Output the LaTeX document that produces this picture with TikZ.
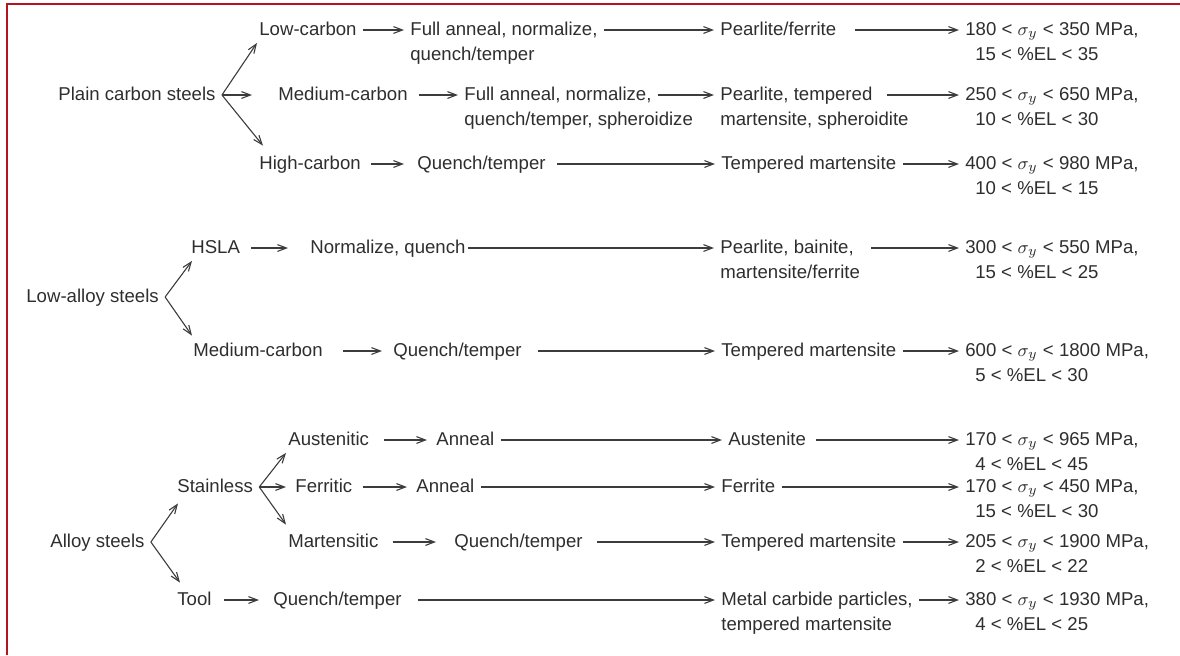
\documentclass[tikz,border=0pt]{standalone}
\usepackage{fontspec}
\setmainfont{Liberation Sans}
\usepackage{tikz}
\usetikzlibrary{arrows.meta,positioning}
\definecolor{txtgray}{HTML}{2E2E2E}
\definecolor{lngray}{HTML}{3C3C3C}
\definecolor{framered}{HTML}{B3141E}

\begin{document}
\begin{tikzpicture}[
  x=0.5pt,y=-0.5pt,
  lbl/.style={anchor=west,text=txtgray,font=\fontsize{9.3}{11}\selectfont,
    text height=7pt,text depth=2pt,inner xsep=3pt,inner ysep=1.75pt},
  arr/.style={-{Straight Barb[length=4.5pt,width=3.4pt]},draw=lngray,line width=0.55pt}
]
\useasboundingbox (0,0) rectangle (1180,655);
% ── Moldura (só topo e esquerda) ─────────────────────────────────────────────
\draw[framered,line width=1.1pt] (7,655) -- (7,4) -- (1180,4);

% ── Plain carbon steels ──────────────────────────────────────────────────────
\node[lbl] (pcs) at (52,95) {Plain carbon steels};
\node[lbl] (lc) at (253,30) {Low-carbon};
\node[lbl] (mc) at (272,95) {Medium-carbon};
\node[lbl] (hc) at (253,164) {High-carbon};
% tratamentos
\node[lbl] (lcT) at (404,30) {Full anneal, normalize,};
\node[lbl,below right=0pt and 0pt of lcT.south west] (lcT2) {quench/temper};
\node[lbl] (mcT) at (458,95) {Full anneal, normalize,};
\node[lbl,below right=0pt and 0pt of mcT.south west] (mcT2) {quench/temper, spheroidize};
\node[lbl] (hcT) at (411,164) {Quench/temper};
% microestruturas
\node[lbl] (lcM) at (714,30) {Pearlite/ferrite};
\node[lbl] (mcM) at (714,95) {Pearlite, tempered};
\node[lbl,below right=0pt and 0pt of mcM.south west] (mcM2) {martensite, spheroidite};
\node[lbl] (hcM) at (715,164) {Tempered martensite};
% propriedades
\node[lbl] (lcP) at (959,30) {180 < $\sigma_y$ < 350 MPa,};
\node[lbl,below right=0pt and 5pt of lcP.south west] (lcP2) {15 < \%EL < 35};
\node[lbl] (mcP) at (959,95) {250 < $\sigma_y$ < 650 MPa,};
\node[lbl,below right=0pt and 5pt of mcP.south west] (mcP2) {10 < \%EL < 30};
\node[lbl] (hcP) at (959,164) {400 < $\sigma_y$ < 980 MPa,};
\node[lbl,below right=0pt and 5pt of hcP.south west] (hcP2) {10 < \%EL < 15};

\draw[arr] (pcs.east) -- ([xshift=2pt]lc.south west);
\draw[arr,shorten >=10pt] (pcs.east) -- (mc.west);
\draw[arr] (pcs.east) -- ([xshift=5pt,yshift=2.75pt]hc.north west);
\draw[arr] (lc) -- (lcT);
\draw[arr] (lcT) -- (lcM);
\draw[arr,shorten <=6pt] (lcM) -- (lcP);
\draw[arr,shorten <=2.5pt] (mc) -- (mcT);
\draw[arr] (mcT) -- (mcM);
\draw[arr,shorten <=4pt] (mcM) -- (mcP);
\draw[arr,shorten <=2pt,shorten >=3.5pt] (hc) -- (hcT);
\draw[arr,shorten <=2.5pt] (hcT) -- (hcM);
\draw[arr] (hcM) -- (hcP);

% ── Low-alloy steels ─────────────────────────────────────────────────────────
\node[lbl] (las) at (20,297) {Low-alloy steels};
\node[lbl] (hsla) at (185,248) {HSLA};
\node[lbl] (lamc) at (187,351) {Medium-carbon};
\node[lbl] (hslaT) at (304,248) {Normalize, quench};
\node[lbl] (lamcT) at (387,351) {Quench/temper};
\node[lbl] (hslaM) at (714,248) {Pearlite, bainite,};
\node[lbl,below right=0pt and 0pt of hslaM.south west] (hslaM2) {martensite/ferrite};
\node[lbl] (lamcM) at (715,351) {Tempered martensite};
\node[lbl] (hslaP) at (959,248) {300 < $\sigma_y$ < 550 MPa,};
\node[lbl,below right=0pt and 5pt of hslaP.south west] (hslaP2) {15 < \%EL < 25};
\node[lbl] (lamcP) at (959,351) {600 < $\sigma_y$ < 1800 MPa,};
\node[lbl,below right=0pt and 5pt of lamcP.south west] (lamcP2) {5 < \%EL < 30};

\draw[arr] (las.east) -- ([xshift=3.5pt]hsla.south west);
\draw[arr] (las.east) -- ([xshift=2.5pt,yshift=1.25pt]lamc.north west);
\draw[arr,shorten <=2.5pt,shorten >=8pt] (hsla) -- (hslaT);
\draw[arr,shorten <=-2pt] (hslaT) -- (hslaM);
\draw[arr,shorten <=5.5pt] (hslaM) -- (hslaP);
\draw[arr,shorten <=7pt,shorten >=2.5pt] (lamc) -- (lamcT);
\draw[arr,shorten <=5pt] (lamcT) -- (lamcM);
\draw[arr] (lamcM) -- (lamcP);

% ── Alloy steels ─────────────────────────────────────────────────────────────
\node[lbl] (als) at (44,542) {Alloy steels};
\node[lbl] (stl) at (171,487) {Stainless};
\node[lbl] (tool) at (171,600) {Tool};
\node[lbl] (aus) at (282,440) {Austenitic};
\node[lbl] (fer) at (289,487) {Ferritic};
\node[lbl] (mar) at (282,542) {Martensitic};
% tratamentos
\node[lbl] (ausT) at (430,440) {Anneal};
\node[lbl] (ferT) at (410,487) {Anneal};
\node[lbl] (marT) at (448,542) {Quench/temper};
\node[lbl] (toolT) at (267,600) {Quench/temper};
% microestruturas
\node[lbl] (ausM) at (722,440) {Austenite};
\node[lbl] (ferM) at (715,487) {Ferrite};
\node[lbl] (marM) at (715,542) {Tempered martensite};
\node[lbl] (toolM) at (715,600) {Metal carbide particles,};
\node[lbl,below right=0pt and 0pt of toolM.south west] (toolM2) {tempered martensite};
% propriedades
\node[lbl] (ausP) at (959,440) {170 < $\sigma_y$ < 965 MPa,};
\node[lbl,below right=0pt and 5pt of ausP.south west] (ausP2) {4 < \%EL < 45};
\node[lbl] (ferP) at (959,487) {170 < $\sigma_y$ < 450 MPa,};
\node[lbl,below right=0pt and 5pt of ferP.south west] (ferP2) {15 < \%EL < 30};
\node[lbl] (marP) at (959,542) {205 < $\sigma_y$ < 1900 MPa,};
\node[lbl,below right=0pt and 5pt of marP.south west] (marP2) {2 < \%EL < 22};
\node[lbl] (toolP) at (959,600) {380 < $\sigma_y$ < 1930 MPa,};
\node[lbl,below right=0pt and 5pt of toolP.south west] (toolP2) {4 < \%EL < 25};

\draw[arr] (als.east) -- ([xshift=3.5pt,yshift=-1.75pt]stl.south west);
\draw[arr] (als.east) -- ([xshift=4.5pt,yshift=2.25pt]tool.north west);
\draw[arr] (stl.east) -- ([xshift=2pt]aus.south west);
\draw[arr,shorten >=1.5pt] (stl.east) -- (fer.west);
\draw[arr] (stl.east) -- ([xshift=2pt,yshift=2.25pt]mar.north west);
\draw[arr,shorten <=4.5pt,shorten >=1.5pt] (aus) -- (ausT);
\draw[arr] (ausT) -- (ausM);
\draw[arr,shorten <=2pt] (ausM) -- (ausP);
\draw[arr,shorten <=2pt,shorten >=1.5pt] (fer) -- (ferT);
\draw[arr] (ferT) -- (ferM);
\draw[arr] (ferM) -- (ferP);
\draw[arr,shorten <=4pt,shorten >=6pt] (mar) -- (marT);
\draw[arr,shorten <=4pt] (marT) -- (marM);
\draw[arr] (marM) -- (marP);
\draw[arr,shorten <=3pt,shorten >=4pt] (tool) -- (toolT);
\draw[arr,shorten <=5pt] (toolT) -- (toolM);
\draw[arr] (toolM) -- (toolP);
\end{tikzpicture}
\end{document}
